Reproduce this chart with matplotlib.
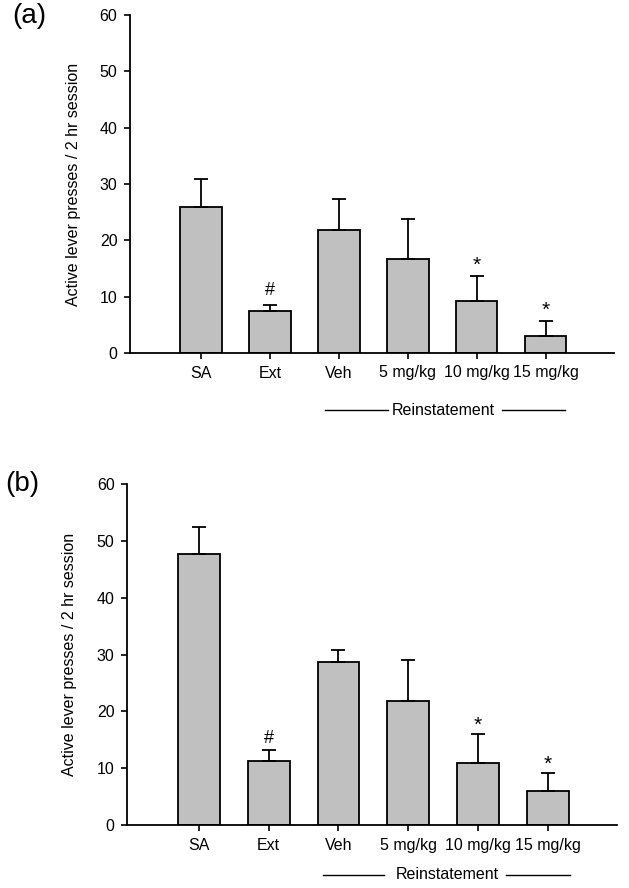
import matplotlib
matplotlib.use("Agg")
import matplotlib.pyplot as plt
import numpy as np

plt.rcParams['font.family'] = ['Liberation Sans', 'DejaVu Sans']

categories = ["SA", "Ext", "Veh", "5 mg/kg", "10 mg/kg", "15 mg/kg"]

means_a = [26.0, 7.4, 21.8, 16.7, 9.3, 3.0]
sem_a = [4.8, 1.1, 5.6, 7.1, 4.4, 2.7]
marks_a = ["", "#", "", "", "*", "*"]

means_b = [47.6, 11.2, 28.6, 21.8, 10.9, 6.0]
sem_b = [4.8, 2.0, 2.2, 7.2, 5.1, 3.1]
marks_b = ["", "#", "", "", "*", "*"]

yticks = [0, 10, 20, 30, 40, 50, 60]
panel_labels = ["(a)", "(b)"]
group_label = "Reinstatement"
ylabel = "Active lever presses / 2 hr session"

W, H = 629, 888
fig = plt.figure(figsize=(W / 100, H / 100), dpi=100)

def px_axes(left, right, top, bottom):
    return fig.add_axes([left / W, 1 - bottom / H, (right - left) / W, (bottom - top) / H])

ax_a = px_axes(130, 614, 15, 353)
ax_b = px_axes(127, 617, 484, 825)

FS = 11.5
MARK_STYLE = {"#": dict(fontsize=13), "*": dict(fontsize=15)}

def draw(ax, means, sems, marks, label_y, bracket, offsets):
    x = np.arange(len(categories))
    ax.bar(x, means, width=0.6, color="#c0c0c0", edgecolor="black", linewidth=1.3, zorder=2)
    ax.errorbar(x, means, yerr=[np.zeros(len(means)), sems], fmt="none",
                ecolor="black", elinewidth=1.3, capsize=5, capthick=1.3, zorder=3)
    for xi, m, s, t in zip(x, means, sems, marks):
        if t:
            ax.annotate(t, (xi, m + s), xytext=(0, offsets[t]), textcoords="offset pixels",
                        ha="center", va="baseline", **MARK_STYLE[t])
    ax.set_xlim(-1.03, 5.99)
    ax.set_ylim(0, 60)
    ax.set_yticks(yticks)
    ax.set_xticks(x)
    ax.set_xticklabels(categories, fontsize=FS)
    ax.tick_params(axis="both", direction="out", length=4, width=1.2, labelsize=FS, pad=5)
    for s in ["top", "right"]:
        ax.spines[s].set_visible(False)
    for s in ["left", "bottom"]:
        ax.spines[s].set_linewidth(1.3)
    ax.set_ylabel(ylabel, fontsize=FS)
    ax.yaxis.set_label_coords(-0.102, 0.5)
    # Reinstatement bracket
    tr = ax.get_xaxis_transform()
    l0, l1, tx, r0, r1 = bracket
    ax.text(tx, label_y, group_label, transform=tr, ha="center", va="center",
            fontsize=FS, clip_on=False)
    ax.plot([l0, l1], [label_y, label_y], transform=tr, color="black", lw=1.0, clip_on=False)
    ax.plot([r0, r1], [label_y, label_y], transform=tr, color="black", lw=1.0, clip_on=False)

draw(ax_a, means_a, sem_a, marks_a, -0.169, (1.8, 2.71, 3.51, 4.36, 5.275), {"#": 10, "*": 5})
draw(ax_b, means_b, sem_b, marks_b, -0.146, (1.785, 2.65, 3.56, 4.40, 5.31), {"#": 7, "*": 3})

fig.text(12 / W, 1 - 3 / H, panel_labels[0], fontsize=20, ha="left", va="top")
fig.text(5 / W, 1 - 471 / H, panel_labels[1], fontsize=20, ha="left", va="top")

fig.savefig("out.png", dpi=100)
